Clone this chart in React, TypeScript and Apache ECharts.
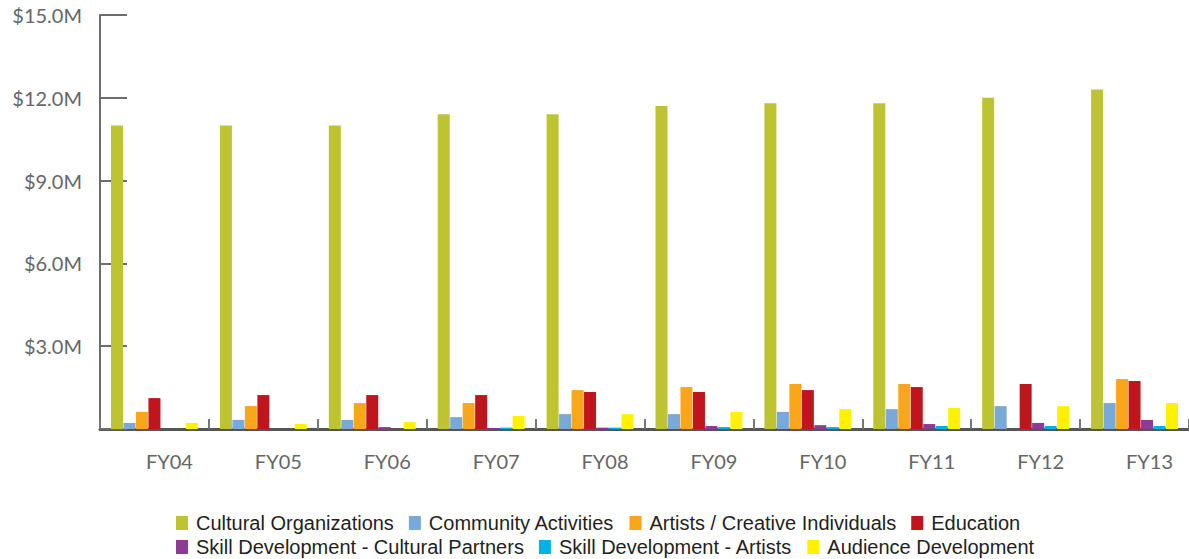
import React, { useEffect, useRef } from "react";
import * as echarts from "echarts";

const categories = ["FY04", "FY05", "FY06", "FY07", "FY08", "FY09", "FY10", "FY11", "FY12", "FY13"];
const culturalOrganizations = [11.0, 11.0, 11.0, 11.4, 11.4, 11.7, 11.8, 11.8, 12.0, 12.3];
const communityActivities = [0.22, 0.33, 0.33, 0.43, 0.54, 0.54, 0.62, 0.72, 0.83, 0.94];
const artistsCreative = [0.62, 0.83, 0.94, 0.94, 1.41, 1.52, 1.63, 1.63, 0, 1.81];
const education = [1.12, 1.23, 1.23, 1.23, 1.34, 1.34, 1.41, 1.52, 1.63, 1.74];
const skillCultural = [0, 0, 0.07, 0.03, 0.05, 0.11, 0.14, 0.18, 0.22, 0.33];
const skillArtists = [0, 0, 0, 0.05, 0.05, 0.07, 0.07, 0.11, 0.11, 0.11];
const audienceDevelopment = [0.22, 0.18, 0.25, 0.47, 0.54, 0.62, 0.72, 0.76, 0.83, 0.94];

const seriesDefs = [
  { name: "Cultural Organizations", data: culturalOrganizations, color: "#bdc331" },
  { name: "Community Activities", data: communityActivities, color: "#79a9d9" },
  { name: "Artists / Creative Individuals", data: artistsCreative, color: "#f9a61b" },
  { name: "Education", data: education, color: "#c1151d" },
  { name: "Skill Development - Cultural Partners", data: skillCultural, color: "#8e3b96" },
  { name: "Skill Development - Artists", data: skillArtists, color: "#00b2e8" },
  { name: "Audience Development", data: audienceDevelopment, color: "#fff200" },
];

const legendRow1 = seriesDefs.slice(0, 4).map((s) => s.name);
const legendRow2 = seriesDefs.slice(4).map((s) => s.name);

export default function App() {
  const ref = useRef<HTMLDivElement>(null);
  useEffect(() => {
    if (!ref.current) return;
    const chart = echarts.init(ref.current, undefined, { renderer: "svg" });
    const legendText = {
      fontSize: 20,
      lineHeight: 20,
      color: "#231f20",
      fontFamily: "Liberation Sans",
      padding: [0, 0, 0, 3],
    };
    const legendCommon = {
      left: 176,
      padding: 0,
      itemWidth: 12,
      itemHeight: 14,
      itemGap: 15,
      icon: "rect",
      textStyle: legendText,
    };
    chart.setOption({
      animation: false,
      backgroundColor: "#ffffff",
      grid: { left: 100, top: 15, width: 1092, height: 414, containLabel: false },
      legend: [
        { ...legendCommon, data: legendRow1, top: 513 },
        { ...legendCommon, data: legendRow2, top: 537 },
      ],
      xAxis: {
        type: "category",
        data: categories,
        axisLine: { show: true, lineStyle: { color: "#555555", width: 3 } },
        axisTick: { show: true, inside: true, length: 10, lineStyle: { color: "#777777", width: 2 } },
        axisLabel: {
          margin: 22,
          fontSize: 20,
          color: "#666666",
          fontFamily: "Lato",
          padding: [0, 0, 0, 30],
        },
      },
      yAxis: {
        type: "value",
        min: 0,
        max: 15,
        interval: 3,
        axisLine: { show: true, lineStyle: { color: "#6d6d6d", width: 2 } },
        axisTick: { show: true, inside: true, length: 27, lineStyle: { color: "#6d6d6d", width: 2 } },
        splitLine: { show: false },
        axisLabel: {
          margin: 18,
          fontSize: 20,
          color: "#666666",
          fontFamily: "Lato",
          formatter: (v: number) => (v === 0 ? "" : "$" + v.toFixed(1) + "M"),
        },
      },
      series: seriesDefs.map((s) => ({
        name: s.name,
        type: "bar",
        data: s.data,
        barWidth: 12,
        barGap: "4%",
        itemStyle: { color: s.color },
      })),
    });
    return () => chart.dispose();
  }, []);
  return (
    <div
      ref={ref}
      style={{ position: "fixed", left: 0, top: 0, width: 1189, height: 559, background: "#fff" }}
    />
  );
}
